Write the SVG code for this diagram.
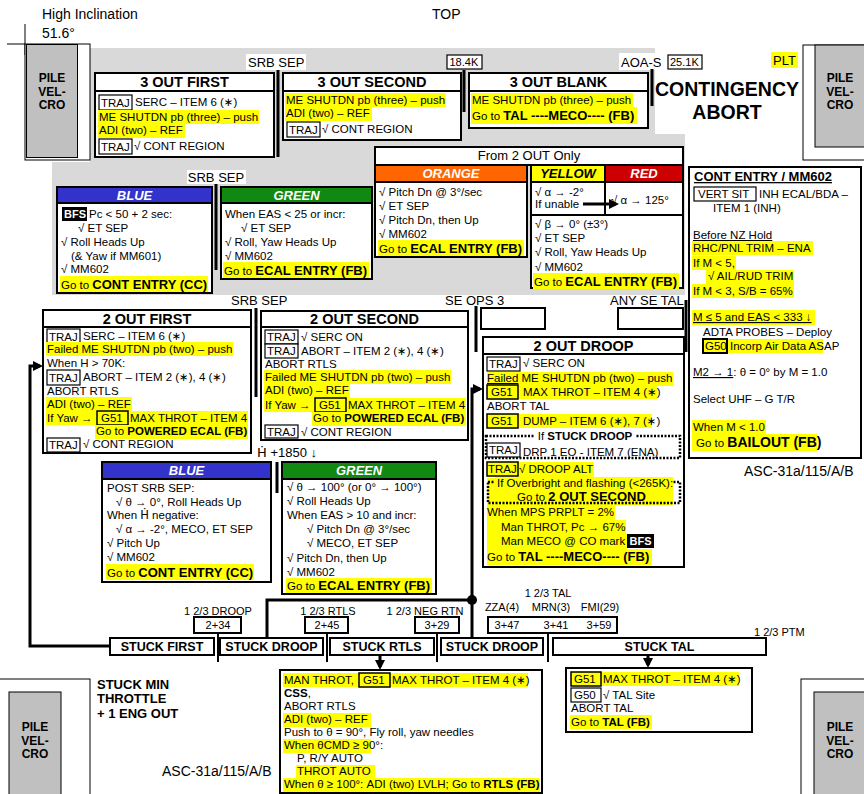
<svg xmlns="http://www.w3.org/2000/svg" width="864" height="794" viewBox="0 0 864 794">
<defs>
<style>
text{font-family:"Liberation Sans",Arial,Helvetica,"DejaVu Sans",sans-serif;font-size:11.5px;fill:#000}
.b{font-weight:bold}
.b13{font-weight:bold;font-size:13px}
.ttl{font-weight:bold;font-size:14.5px;text-anchor:middle}
.hdr{font-weight:bold;font-style:italic;font-size:13px;text-anchor:middle;fill:#fff}
.lbl{font-size:13px}
.big{font-size:14px}
.pile{font-weight:bold;font-size:12px;text-anchor:middle}
.stk{font-weight:bold;font-size:12.5px;text-anchor:middle}
.sm{font-size:11px}
.mid{text-anchor:middle}
.dv{font-family:"DejaVu Sans",sans-serif}
.wt{fill:#fff;font-weight:bold;font-size:11px}
.box{fill:#fff;stroke:#000;stroke-width:2}
.tb{fill:#fff;stroke:#000;stroke-width:1.2}
.tby{fill:#ff0;stroke:#000;stroke-width:1.5}
.hl{fill:#ff0}
.ln{fill:none;stroke:#000;stroke-width:3}
.ln2{fill:none;stroke:#000;stroke-width:2}
.thin{fill:none;stroke:#000;stroke-width:1}
.dot{fill:none;stroke:#000;stroke-width:2.5;stroke-dasharray:2 1.5}
.grayp{fill:#c0c0c0;stroke:#000;stroke-width:1}
</style>
<marker id="ah" viewBox="0 0 10 10" refX="7" refY="5" markerWidth="10" markerHeight="10" markerUnits="userSpaceOnUse" orient="auto"><path d="M0,0L10,5L0,10z" fill="#000"/></marker>
</defs>
<rect x="0" y="0" width="864" height="794" fill="#fff"/>

<!-- background gray zone -->
<polygon points="90,48 655,48 655,134 685,134 685,295 52,295 52,162 90,162" fill="#d9d9d9"/>

<!-- page labels -->
<g id="labels">
<text class="big" x="42" y="19">High Inclination</text>
<text class="big" x="42" y="38">51.6°</text>
<text class="big" x="432" y="19">TOP</text>
<rect x="246" y="54" width="60" height="16" fill="#fff"/>
<text class="lbl" x="248" y="67">SRB SEP</text>
<rect x="447" y="55" width="35" height="14" class="tb"/>
<text class="sm" x="449.5" y="66">18.4K</text>
<rect x="619" y="53" width="44" height="17" fill="#fff"/>
<text class="lbl" x="621" y="67">AOA-S</text>
<rect x="668" y="55" width="34" height="14" class="tb"/>
<text class="sm" x="670" y="66">25.1K</text>
<rect x="771" y="52" width="27" height="16" class="hl"/>
<text class="lbl" x="773" y="65">PLT</text>
<text x="727" y="96" style="font-size:19.5px;font-weight:bold;text-anchor:middle">CONTINGENCY</text>
<text x="727" y="119" style="font-size:19.5px;font-weight:bold;text-anchor:middle">ABORT</text>
<rect x="187" y="170" width="59" height="14" fill="#fff"/>
<text class="lbl mid" x="216" y="182">SRB SEP</text>
<text class="lbl" x="231" y="305">SRB SEP</text>
<text class="lbl" x="445" y="305">SE OPS 3</text>
<text class="lbl" x="610" y="305">ANY SE TAL</text>
<text class="lbl" x="257" y="457"><tspan class="dv">Ḣ</tspan> +1850 ↓</text>
<text class="big" x="744" y="476">ASC-31a/115/A/B</text>
<text class="big" x="162" y="776">ASC-31a/115/A/B</text>
<text class="b13" x="97" y="689">STUCK MIN</text>
<text class="b13" x="97" y="703">THROTTLE</text>
<text class="b13" x="97" y="718">+ 1 ENG OUT</text>
<text class="sm mid" x="218" y="615">1 2/3 DROOP</text>
<text class="sm mid" x="328" y="615">1 2/3 RTLS</text>
<text class="sm mid" x="425" y="615">1 2/3 NEG RTN</text>
<text class="sm mid" x="548" y="597">1 2/3 TAL</text>
<text class="sm mid" x="502" y="611">ZZA(4)</text>
<text class="sm mid" x="551" y="611">MRN(3)</text>
<text class="sm mid" x="600" y="611">FMI(29)</text>
<text class="sm" x="754" y="636">1 2/3 PTM</text>
</g>

<!-- pile velcro blocks -->
<g id="pile-tl">
<line x1="25" y1="24" x2="25" y2="55" class="thin"/>
<line x1="7" y1="44" x2="25" y2="44" class="thin"/>
<rect x="25" y="44" width="65" height="116" fill="#fff" stroke="#000"/>
<rect x="26.5" y="44.5" width="51" height="113" class="grayp"/>
<text class="pile" x="52" y="82">PILE</text><text class="pile" x="52" y="96">VEL-</text><text class="pile" x="52" y="109">CRO</text>
</g>
<g id="pile-tr">
<rect x="803" y="45" width="62" height="115" fill="#fff" stroke="#000"/>
<rect x="815" y="45" width="50" height="102" class="grayp"/>
<text class="pile" x="840" y="82">PILE</text><text class="pile" x="840" y="96">VEL-</text><text class="pile" x="840" y="109">CRO</text>
</g>
<g id="pile-bl">
<rect x="-1" y="679" width="91" height="116" fill="#fff" stroke="#000"/>
<rect x="9" y="692" width="52" height="103" class="grayp"/>
<text class="pile" x="35" y="731">PILE</text><text class="pile" x="35" y="745">VEL-</text><text class="pile" x="35" y="758">CRO</text>
</g>
<g id="pile-br">
<rect x="801" y="679" width="64" height="116" fill="#fff" stroke="#000"/>
<rect x="814" y="692" width="51" height="103" class="grayp"/>
<text class="pile" x="840" y="731">PILE</text><text class="pile" x="840" y="745">VEL-</text><text class="pile" x="840" y="758">CRO</text>
</g>

<!-- 3 OUT FIRST -->
<g id="n3outfirst">
<rect class="box" x="95" y="73" width="179" height="84"/>
<line x1="95" y1="91" x2="274" y2="91" class="ln2"/>
<text class="ttl" x="184.5" y="87">3 OUT FIRST</text>
<rect class="tb" x="99" y="95" width="33" height="15"/><text x="101" y="106.5">TRAJ</text>
<text x="135" y="106">SERC – ITEM 6 (∗)</text>
<rect class="hl" x="98" y="110" width="161" height="14"/><text x="99" y="121">ME SHUTDN pb (three) – push</text>
<rect class="hl" x="98" y="124" width="87" height="14"/><text x="99" y="134">ADI (two) – REF</text>
<rect class="tb" x="99" y="139" width="33" height="15"/><text x="101" y="150.5">TRAJ</text>
<text x="134" y="150">√ CONT REGION</text>
</g>

<!-- 3 OUT SECOND -->
<g id="n3outsecond">
<rect class="box" x="283" y="73" width="178" height="67"/>
<line x1="283" y1="91" x2="461" y2="91" class="ln2"/>
<text class="ttl" x="372" y="87">3 OUT SECOND</text>
<rect class="hl" x="285" y="93" width="161" height="14"/><text x="286" y="104">ME SHUTDN pb (three) – push</text>
<rect class="hl" x="285" y="107" width="87" height="14"/><text x="286" y="117">ADI (two) – REF</text>
<rect class="tb" x="287" y="122" width="33" height="15"/><text x="289" y="133.5">TRAJ</text>
<text x="322" y="133">√ CONT REGION</text>
</g>

<!-- 3 OUT BLANK -->
<g id="n3outblank">
<rect class="box" x="469" y="73" width="179" height="55"/>
<line x1="469" y1="91" x2="648" y2="91" class="ln2"/>
<text class="ttl" x="558.5" y="87">3 OUT BLANK</text>
<rect class="hl" x="471" y="93" width="162" height="14"/><text x="472" y="104">ME SHUTDN pb (three) – push</text>
<rect class="hl" x="471" y="107" width="166" height="17"/><text x="472" y="120">Go to <tspan class="b13">TAL ----MECO---- (FB)</tspan></text>
</g>

<!-- upper BLUE -->
<g id="blue1">
<rect class="box" x="57" y="203" width="155" height="90"/>
<rect x="57" y="187" width="155" height="16" fill="#3333cc" stroke="#000" stroke-width="2"/>
<text class="hdr" x="134.5" y="200">BLUE</text>
<rect x="62" y="207" width="25" height="14" fill="#000"/><text class="wt" x="64" y="218">BFS</text>
<text x="89" y="218">Pc &lt; 50 + 2 sec:</text>
<text x="78" y="232">√ ET SEP</text>
<text x="61" y="246">√ Roll Heads Up</text>
<text x="71" y="260">(&amp; Yaw if MM601)</text>
<text x="61" y="273">√ MM602</text>
<rect class="hl" x="60" y="276" width="148" height="16"/><text x="61" y="289">Go to <tspan class="b13">CONT ENTRY (CC)</tspan></text>
</g>

<!-- upper GREEN -->
<g id="green1">
<rect class="box" x="221" y="203" width="151" height="76"/>
<rect x="221" y="187" width="151" height="16" fill="#118811" stroke="#000" stroke-width="2"/>
<text class="hdr" x="296.5" y="200">GREEN</text>
<text x="225" y="218">When EAS &lt; 25 or incr:</text>
<text x="241" y="232">√ ET SEP</text>
<text x="225" y="246">√ Roll, Yaw Heads Up</text>
<text x="225" y="260">√ MM602</text>
<rect class="hl" x="223" y="262" width="146" height="16"/><text x="224" y="275">Go to <tspan class="b13">ECAL ENTRY (FB)</tspan></text>
</g>

<!-- From 2 OUT only -->
<g id="from2out">
<rect class="box" x="375" y="147" width="308" height="18"/>
<text class="lbl mid" x="529" y="160">From 2 OUT Only</text>
</g>
<g id="orange">
<rect class="box" x="375" y="182" width="152" height="75"/>
<rect x="375" y="165" width="152" height="17" fill="#ff6600" stroke="#000" stroke-width="2"/>
<text class="hdr" x="451" y="178">ORANGE</text>
<text x="379" y="196">√ Pitch Dn @ 3°/sec</text>
<text x="379" y="210">√ ET SEP</text>
<text x="379" y="224">√ Pitch Dn, then Up</text>
<text x="379" y="238">√ MM602</text>
<rect class="hl" x="378" y="240" width="146" height="16"/><text x="379" y="253">Go to <tspan class="b13">ECAL ENTRY (FB)</tspan></text>
</g>
<g id="yellow">
<rect class="box" x="531" y="182" width="74" height="33"/>
<rect x="531" y="165" width="74" height="17" fill="#ffff00" stroke="#000" stroke-width="2"/>
<text class="hdr" x="568" y="178" style="fill:#000">YELLOW</text>
<text x="535" y="196">√ α → -2°</text>
<text x="535" y="208">If unable</text>
</g>
<g id="red">
<rect class="box" x="605" y="182" width="78" height="33"/>
<rect x="605" y="165" width="78" height="17" fill="#cc0000" stroke="#000" stroke-width="2"/>
<text class="hdr" x="644" y="178">RED</text>
<text x="611" y="204">√ α → 125°</text>
</g>
<g id="yellowred">
<rect class="box" x="531" y="215" width="152" height="73"/>
<text x="535" y="228">√ β → 0° (±3°)</text>
<text x="535" y="242">√ ET SEP</text>
<text x="535" y="256">√ Roll, Yaw Heads Up</text>
<text x="535" y="271">√ MM602</text>
<rect class="hl" x="533" y="273" width="146" height="16"/><text x="534" y="286">Go to <tspan class="b13">ECAL ENTRY (FB)</tspan></text>
</g>

<!-- CONT ENTRY -->
<g id="contentry">
<rect class="box" x="689" y="167" width="172" height="291"/>
<text class="b13" x="694" y="181" text-decoration="underline">CONT ENTRY / MM602</text>
<rect class="tb" x="694" y="187" width="62" height="14"/><text x="698" y="198">VERT SIT</text>
<text x="759" y="198">INH ECAL/BDA –</text>
<text x="713" y="212">ITEM 1 (INH)</text>
<text x="693" y="239" text-decoration="underline">Before NZ Hold</text>
<rect class="hl" x="692" y="241" width="121" height="14"/><text x="693" y="252">RHC/PNL TRIM – ENA</text>
<rect class="hl" x="692" y="256" width="44" height="14"/><text x="693" y="267">If M &lt; 5,</text>
<rect class="hl" x="706" y="270" width="88" height="14"/><text x="708" y="280">√ AIL/RUD TRIM</text>
<rect class="hl" x="692" y="284" width="102" height="14"/><text x="693" y="295">If M &lt; 3, S/B = 65%</text>
<rect class="hl" x="692" y="310" width="123" height="15"/><text x="693" y="321" text-decoration="underline">M ≤ 5 and EAS &lt; 333 ↓</text>
<text x="703" y="336">ADTA PROBES – Deploy</text>
<rect class="hl" x="727" y="339" width="96" height="14"/>
<rect class="tby" x="703" y="339" width="24" height="14" style="stroke-width:2"/><text x="705" y="350">G50</text>
<text x="730" y="350">Incorp Air Data ASAP</text>
<text x="693" y="376"><tspan text-decoration="underline">M2 → 1</tspan>: θ = 0° by M = 1.0</text>
<text x="693" y="403">Select UHF – G T/R</text>
<rect class="hl" x="692" y="420" width="74" height="14"/><text x="693" y="431">When M &lt; 1.0</text>
<rect class="hl" x="692" y="434" width="125" height="17"/><text x="696" y="447">Go to <tspan class="b13" style="font-size:14px">BAILOUT (FB)</tspan></text>
</g>

<!-- 2 OUT FIRST -->
<g id="n2outfirst">
<rect class="box" x="43" y="310" width="208" height="143"/>
<line x1="43" y1="327" x2="251" y2="327" class="ln2"/>
<text class="ttl" x="147" y="324">2 OUT FIRST</text>
<rect class="tb" x="47" y="329" width="33" height="15"/><text x="49" y="340.5">TRAJ</text>
<text x="83" y="340">SERC – ITEM 6 (∗)</text>
<rect class="hl" x="46" y="342" width="187" height="14"/><text x="47" y="353">Failed ME SHUTDN pb (two) – push</text>
<text x="47" y="367">When H &gt; 70K:</text>
<rect class="tb" x="47" y="370" width="33" height="15"/><text x="49" y="381.5">TRAJ</text>
<text x="83" y="381">ABORT – ITEM 2 (∗), 4 (∗)</text>
<text x="47" y="395">ABORT RTLS</text>
<rect class="hl" x="46" y="397" width="86" height="14"/><text x="47" y="408">ADI (two) – REF</text>
<rect class="hl" x="46" y="411" width="202" height="14"/>
<text x="47" y="422">If Yaw →</text>
<rect class="tby" x="97" y="411" width="31" height="14"/><text x="101" y="422">G51</text>
<text x="130" y="422">MAX THROT – ITEM 4</text>
<rect class="hl" x="95" y="425" width="153" height="14"/><text x="96" y="435">Go to <tspan class="b">POWERED ECAL (FB)</tspan></text>
<rect class="tb" x="47" y="438" width="33" height="14"/><text x="49" y="449">TRAJ</text>
<text x="83" y="448">√ CONT REGION</text>
</g>

<!-- 2 OUT SECOND -->
<g id="n2outsecond">
<rect class="box" x="261" y="311" width="207" height="129"/>
<line x1="261" y1="327" x2="468" y2="327" class="ln2"/>
<text class="ttl" x="364.5" y="324">2 OUT SECOND</text>
<rect class="tb" x="265" y="330" width="33" height="14"/><text x="267" y="341">TRAJ</text>
<text x="301" y="341">√ SERC ON</text>
<rect class="tb" x="265" y="344" width="33" height="14"/><text x="267" y="355">TRAJ</text>
<text x="301" y="355">ABORT – ITEM 2 (∗), 4 (∗)</text>
<text x="265" y="368">ABORT RTLS</text>
<rect class="hl" x="264" y="370" width="187" height="14"/><text x="265" y="381">Failed ME SHUTDN pb (two) – push</text>
<rect class="hl" x="264" y="384" width="86" height="14"/><text x="265" y="394">ADI (two) – REF</text>
<rect class="hl" x="264" y="398" width="202" height="14"/>
<text x="265" y="409">If Yaw →</text>
<rect class="tby" x="315" y="398" width="31" height="14"/><text x="319" y="409">G51</text>
<text x="348" y="409">MAX THROT – ITEM 4</text>
<rect class="hl" x="312" y="412" width="154" height="14"/><text x="313" y="422">Go to <tspan class="b">POWERED ECAL (FB)</tspan></text>
<rect class="tb" x="265" y="425" width="33" height="13"/><text x="267" y="436">TRAJ</text>
<text x="301" y="436">√ CONT REGION</text>
</g>

<!-- empty boxes -->
<g id="seops3box"><rect class="box" x="481" y="308" width="64" height="21"/></g>
<g id="anysetalbox"><rect class="box" x="618" y="308" width="65" height="21"/></g>

<!-- 2 OUT DROOP -->
<g id="n2outdroop">
<rect class="box" x="483" y="337" width="201" height="230"/>
<line x1="483" y1="354" x2="684" y2="354" class="ln2"/>
<text class="ttl" x="583.5" y="351">2 OUT DROOP</text>
<rect class="tb" x="487" y="357" width="33" height="14"/><text x="489" y="368">TRAJ</text>
<text x="523" y="367">√ SERC ON</text>
<rect class="hl" x="487" y="372" width="186" height="14"/><text x="487" y="382"><tspan text-decoration="underline">Failed</tspan> ME SHUTDN pb (two) – push</text>
<rect class="hl" x="518" y="385" width="139" height="14"/>
<rect class="tby" x="487" y="385" width="31" height="14"/><text x="491" y="396">G51</text>
<text x="523" y="396">MAX THROT – ITEM 4 (∗)</text>
<text x="487" y="410">ABORT TAL</text>
<rect class="hl" x="518" y="414" width="134" height="14"/>
<rect class="tby" x="487" y="414" width="31" height="14"/><text x="491" y="425">G51</text>
<text x="523" y="425">DUMP – ITEM 6 (∗), 7 (∗)</text>
<rect class="dot" x="486" y="436" width="194" height="22"/>
<rect x="535" y="430" width="100" height="13" fill="#fff"/>
<text x="585" y="440" class="mid">If <tspan class="b">STUCK DROOP</tspan></text>
<rect class="tb" x="487" y="443" width="33" height="14"/><text x="489" y="454">TRAJ</text>
<text x="523" y="456">DRP 1 EO - ITEM 7 (ENA)</text>
<rect class="hl" x="518" y="462" width="76" height="15"/>
<rect class="tby" x="487" y="462" width="31" height="14"/><text x="488" y="473">TRAJ</text>
<text x="519" y="473">√ DROOP ALT</text>
<rect class="hl" x="487" y="478" width="186" height="27"/>
<rect class="dot" x="488" y="482" width="192" height="21"/>
<rect class="hl" x="495" y="477" width="178" height="12"/>
<text x="497" y="487">If Overbright and flashing (&lt;265K):</text>
<text x="517" y="501">Go to <tspan class="b13">2 OUT SECOND</tspan></text>
<rect class="hl" x="487" y="505" width="128" height="15"/><text x="487" y="516">When MPS PRPLT = 2%</text>
<rect class="hl" x="487" y="520" width="139" height="14"/><text x="501" y="531">Man THROT, Pc → 67%</text>
<rect class="hl" x="487" y="534" width="140" height="15"/><text x="501" y="545">Man MECO @ CO mark</text>
<rect x="627" y="534" width="27" height="14" fill="#000"/><text class="wt" x="629.5" y="545">BFS</text>
<rect class="hl" x="487" y="549" width="165" height="16"/><text x="487" y="561">Go to <tspan class="b13">TAL ----MECO---- (FB)</tspan></text>
</g>

<!-- lower BLUE -->
<g id="blue2">
<rect class="box" x="102" y="479" width="169" height="103"/>
<rect x="102" y="462" width="169" height="17" fill="#3333cc" stroke="#000" stroke-width="2"/>
<text class="hdr" x="186.5" y="475">BLUE</text>
<text x="107" y="492">POST SRB SEP:</text>
<text x="116" y="506">√ θ → 0°, Roll Heads Up</text>
<text x="107" y="519">When <tspan class="dv">Ḣ</tspan> negative:</text>
<text x="116" y="533">√ α → -2°, MECO, ET SEP</text>
<text x="107" y="547">√ Pitch Up</text>
<text x="107" y="561">√ MM602</text>
<rect class="hl" x="106" y="564" width="148" height="16"/><text x="107" y="577">Go to <tspan class="b13">CONT ENTRY (CC)</tspan></text>
</g>

<!-- lower GREEN -->
<g id="green2">
<rect class="box" x="282" y="479" width="154" height="115"/>
<rect x="282" y="462" width="154" height="17" fill="#118811" stroke="#000" stroke-width="2"/>
<text class="hdr" x="359" y="475">GREEN</text>
<text x="287" y="491">√ θ → 100° (or 0° → 100°)</text>
<text x="287" y="505">√ Roll Heads Up</text>
<text x="287" y="519">When EAS  &gt; 10 and incr:</text>
<text x="307" y="533">√ Pitch Dn @ 3°/sec</text>
<text x="307" y="547">√ MECO, ET SEP</text>
<text x="287" y="562">√ Pitch Dn, then Up</text>
<text x="287" y="576">√ MM602</text>
<rect class="hl" x="286" y="578" width="146" height="15"/><text x="287" y="590">Go to <tspan class="b13">ECAL ENTRY (FB)</tspan></text>
</g>

<!-- time boxes -->
<g id="t234"><rect class="box" x="194" y="617" width="47" height="16"/><text class="sm mid" x="218" y="629">2+34</text></g>
<g id="t245"><rect class="box" x="305" y="617" width="43" height="16"/><text class="sm mid" x="327" y="629">2+45</text></g>
<g id="t329"><rect class="box" x="415" y="617" width="44" height="16"/><text class="sm mid" x="437" y="629">3+29</text></g>
<g id="ttal"><rect class="box" x="488" y="617" width="129" height="16"/>
<text class="sm mid" x="507" y="629">3+47</text><text class="sm mid" x="556" y="629">3+41</text><text class="sm mid" x="599" y="629">3+59</text></g>

<!-- STUCK boxes -->
<g id="stuckfirst"><rect class="box" x="110" y="638" width="104" height="17"/><text class="stk" x="162" y="651">STUCK FIRST</text></g>
<g id="stuckdroop1"><rect class="box" x="220" y="638" width="103" height="17"/><text class="stk" x="271.5" y="651">STUCK DROOP</text></g>
<g id="stuckrtls"><rect class="box" x="330" y="638" width="104" height="17"/><text class="stk" x="382" y="651">STUCK RTLS</text></g>
<g id="stuckdroop2"><rect class="box" x="441" y="638" width="102" height="17"/><text class="stk" x="492" y="651">STUCK DROOP</text></g>
<g id="stucktal"><rect class="box" x="553" y="638" width="213" height="17"/><text class="stk" x="659.5" y="651">STUCK TAL</text></g>

<!-- RTLS procedure -->
<g id="rtlsproc">
<rect class="box" x="280" y="670" width="262" height="123"/>
<rect class="hl" x="283" y="673" width="76" height="14"/>
<rect class="hl" x="390" y="673" width="138" height="14"/>
<text x="284" y="684">MAN THROT,</text>
<rect class="tby" x="359" y="673" width="31" height="14"/><text x="363" y="684">G51</text>
<text x="392" y="684">MAX THROT – ITEM 4 (∗)</text>
<text x="284" y="697"><tspan class="b">CSS</tspan>,</text>
<text x="284" y="710">ABORT RTLS</text>
<rect class="hl" x="283" y="713" width="88" height="14"/><text x="284" y="723">ADI (two) – REF</text>
<text x="284" y="736">Push to θ = 90°, Fly roll, yaw needles</text>
<rect class="hl" x="283" y="739" width="88" height="14"/><text x="284" y="749">When θCMD ≥ 90°:</text>
<text x="297" y="762">P, R/Y AUTO</text>
<rect class="hl" x="296" y="765" width="79" height="14"/><text x="297" y="775">THROT AUTO</text>
<rect class="hl" x="283" y="778" width="257" height="14"/><text x="284" y="788">When θ ≥ 100°: ADI (two) LVLH; Go to <tspan class="b">RTLS (FB)</tspan></text>
</g>

<!-- TAL procedure -->
<g id="talproc">
<rect class="box" x="566" y="668" width="186" height="64"/>
<rect class="hl" x="601" y="672" width="138" height="14"/>
<rect class="tby" x="571" y="672" width="30" height="14"/><text x="574" y="683">G51</text>
<text x="603" y="683">MAX THROT – ITEM 4 (∗)</text>
<rect class="tb" x="571" y="688" width="30" height="14"/><text x="574" y="699">G50</text>
<text x="603" y="699">√ TAL Site</text>
<text x="571" y="712">ABORT TAL</text>
<rect class="hl" x="570" y="715" width="82" height="14"/><text x="571" y="726">Go to <tspan class="b">TAL (FB)</tspan></text>
</g>

<!-- connectors -->
<g id="connectors">
<line x1="278" y1="70" x2="278" y2="157" class="ln"/>
<line x1="464" y1="70" x2="464" y2="112" class="ln"/>
<line x1="652" y1="69" x2="652" y2="106" class="ln"/>
<line x1="216" y1="184" x2="216" y2="270" class="ln"/>
<line x1="256" y1="308" x2="256" y2="397" class="ln"/>
<line x1="476" y1="306" x2="476" y2="352" class="ln"/>
<line x1="686" y1="300" x2="686" y2="352" class="ln"/>
<line x1="277" y1="462" x2="277" y2="493" class="ln"/>
<line x1="218" y1="633" x2="218" y2="662" class="ln2"/>
<line x1="327" y1="633" x2="327" y2="662" class="ln2"/>
<line x1="437" y1="633" x2="437" y2="662" class="ln2"/>
<line x1="548" y1="633" x2="548" y2="662" class="ln2"/>
<polyline points="110,646 30,646 30,366 40,366" class="ln" marker-end="url(#ah)"/>
<polyline points="267,638 267,600 472,600" class="ln"/>
<line x1="472" y1="600" x2="472" y2="638" class="ln"/>
<polyline points="472,600 472,389 480,389" class="ln" marker-end="url(#ah)"/>
<circle cx="472" cy="600" r="5" fill="#000"/>
<line x1="380" y1="655" x2="380" y2="667" class="ln" marker-end="url(#ah)"/>
<line x1="648" y1="655" x2="648" y2="665" class="ln" marker-end="url(#ah)"/>
<line x1="583" y1="204" x2="616" y2="204" class="ln" marker-end="url(#ah)"/>
</g>
</svg>
